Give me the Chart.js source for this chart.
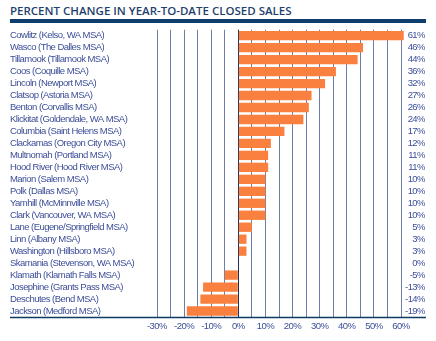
<!DOCTYPE html>
<html>
<head>
<meta charset="utf-8">
<script src="https://cdn.jsdelivr.net/npm/chart.js@4/dist/chart.umd.min.js"></script>
<style>
  html, body { margin: 0; padding: 0; background: #fff; }
  #title {
    position: absolute; left: 10px; top: 4px; width: 416px;
    font: 600 11.5px "Open Sans", sans-serif; color: #1f3f6e;
    border-bottom: 4px solid #0f3d6e; padding-bottom: 1px; line-height: 14px;
  }
  #chartDiv { position: absolute; left: 0; top: 24px; width: 436px; height: 317px; }
</style>
</head>
<body>
<div id="title">PERCENT CHANGE IN YEAR-TO-DATE CLOSED SALES</div>
<div id="chartDiv"><canvas id="chartSales"></canvas></div>
<script>
const areas = [
  "Cowlitz (Kelso, WA MSA)", "Wasco (The Dalles MSA)", "Tillamook (Tillamook MSA)",
  "Coos (Coquille MSA)", "Lincoln (Newport MSA)", "Clatsop (Astoria MSA)",
  "Benton (Corvallis MSA)", "Klickitat (Goldendale, WA MSA)", "Columbia (Saint Helens MSA)",
  "Clackamas (Oregon City MSA)", "Multnomah (Portland MSA)", "Hood River (Hood River MSA)",
  "Marion (Salem MSA)", "Polk (Dallas MSA)", "Yamhill (McMinnville MSA)",
  "Clark (Vancouver, WA MSA)", "Lane (Eugene/Springfield MSA)", "Linn (Albany MSA)",
  "Washington (Hillsboro MSA)", "Skamania (Stevenson, WA MSA)", "Klamath (Klamath Falls MSA)",
  "Josephine (Grants Pass MSA)", "Deschutes (Bend MSA)", "Jackson (Medford MSA)"
];
const pctChange = [61, 46, 44, 36, 32, 27, 26, 24, 17, 12, 11, 11, 10, 10, 10, 10, 5, 3, 3, 0, -5, -13, -14, -19];
const xMin = -30;
const xMax = 60;

const textColor = "#3c4e98";
const labelFont = { family: "'Liberation Sans', sans-serif", size: 9.5 };

// squeeze the label text a little, the axis labels are set tight
const tightText = {
  id: "tightText",
  beforeDraw(chart) {
    chart.ctx.letterSpacing = "-0.55px";
  },
};

// dark rule under the value axis, running the full width
const bottomRule = {
  id: "bottomRule",
  afterDraw(chart) {
    const ctx = chart.ctx;
    const y = chart.chartArea.bottom + 0.5;
    ctx.save();
    ctx.strokeStyle = "#0f3a63";
    ctx.lineWidth = 1.5;
    ctx.beginPath();
    ctx.moveTo(10, y);
    ctx.lineTo(426, y);
    ctx.stroke();
    ctx.restore();
  },
};

const chartSales = new Chart(document.querySelector("#chartSales"), {
  type: "bar",
  data: {
    labels: areas,
    datasets: [
      {
        data: pctChange,
        backgroundColor: "#f9803f",
        categoryPercentage: 1,
        barPercentage: 0.78,
        clip: false,
      },
    ],
  },
  plugins: [tightText, bottomRule],
  options: {
    indexAxis: "y",
    responsive: true,
    maintainAspectRatio: false,
    animation: false,
    layout: { padding: { left: 10, right: 11, top: 1, bottom: 0 } },
    plugins: { legend: { display: false }, tooltip: { enabled: false } },
    scales: {
      x: {
        min: xMin,
        max: xMax,
        border: { display: false },
        grid: {
          color: (c) => (c.tick && c.tick.value === 0 ? "#1d2f5a" : "#6d7fa6"),
          lineWidth: 1,
          tickLength: 0,
        },
        ticks: {
          stepSize: 5,
          autoSkip: false,
          maxRotation: 0,
          padding: 4,
          color: textColor,
          font: labelFont,
          callback: (v) => (v % 10 === 0 ? v + "%" : ""),
        },
        afterFit: (scale) => { scale.height = 24; },
      },
      y: {
        grid: { display: false },
        border: { display: false },
        ticks: { color: textColor, font: labelFont, crossAlign: "far", padding: 0, autoSkip: false },
        afterFit: (scale) => { scale.width = 147; },
      },
      y2: {
        type: "category",
        position: "right",
        offset: true,
        labels: pctChange.map((v) => v + "%"),
        grid: { display: false },
        border: { display: false },
        ticks: { color: textColor, font: labelFont, crossAlign: "far", padding: 0, autoSkip: false },
        afterFit: (scale) => { scale.width = 24; },
      },
    },
  },
});
</script>
</body>
</html>
